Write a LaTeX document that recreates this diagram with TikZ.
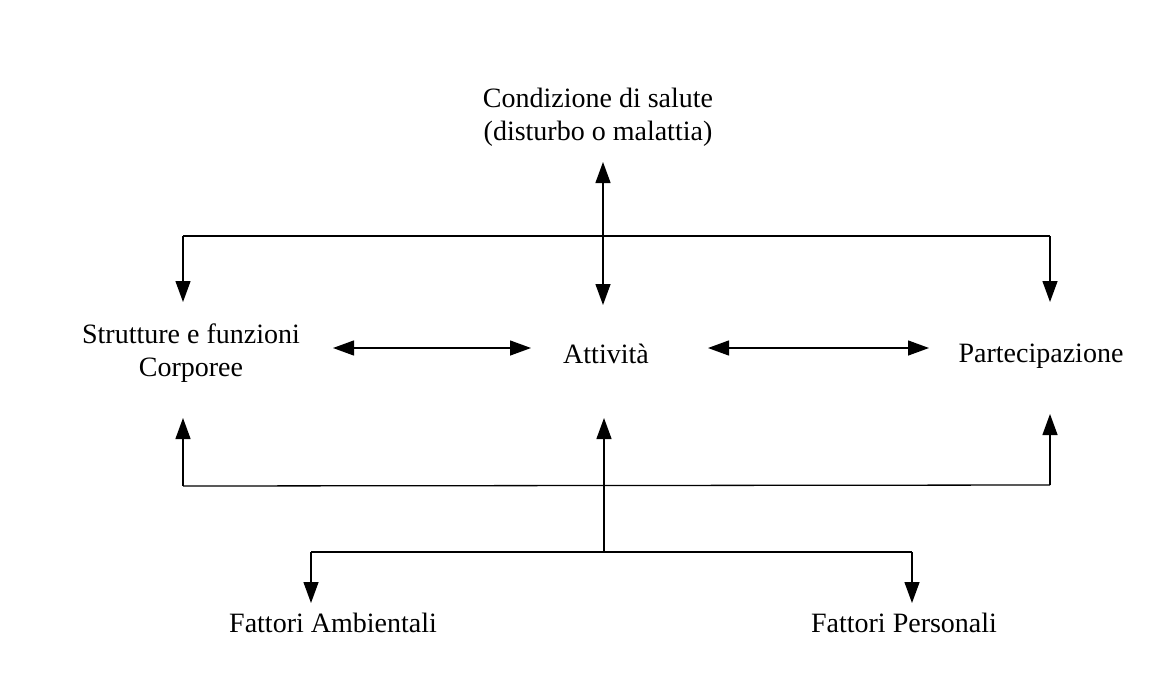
\documentclass[tikz,border=0pt]{standalone}
\usepackage{fontspec}
\setmainfont{Liberation Serif}
\usetikzlibrary{arrows.meta}
\begin{document}
\begin{tikzpicture}[x=1pt,y=-1pt,
  lbl/.style={inner sep=0pt, font=\fontsize{28}{33}\selectfont, align=center, anchor=base},
  conn/.style={line width=1.3pt, black},
  tipend/.style={-{Triangle[length=21pt,width=15pt]}},
  tipboth/.style={{Triangle[length=21pt,width=15pt]}-{Triangle[length=21pt,width=15pt]}}]
\useasboundingbox[fill=white] (0,0) rectangle (1170,686);
% labels
\node[lbl] (cond) at (598,140) {Condizione di salute\\(disturbo o malattia)};
\node[lbl] (strut) at (191,376) {Strutture e funzioni\\Corporee};
\node[lbl] (att) at (606,363) {Attività};
\node[lbl] (part) at (1041,362) {Partecipazione};
\node[lbl] (amb) at (333,632) {Fattori Ambientali};
\node[lbl] (pers) at (904,632) {Fattori Personali};
% coordinates
\coordinate (cu) at (603,162);
\coordinate (cd) at (603,305);
\coordinate (tl) at (183,236);
\coordinate (tr) at (1050,236);
\coordinate (tld) at (183,302);
\coordinate (trd) at (1050,302);
\coordinate (h1a) at (333,348);
\coordinate (h1b) at (531,348);
\coordinate (h2a) at (708,348);
\coordinate (h2b) at (929,348);
\coordinate (bl) at (183,486);
\coordinate (br) at (1050,485);
\coordinate (blu) at (183,418);
\coordinate (bru) at (1050,414);
\coordinate (cm) at (604,552);
\coordinate (cmu) at (604,418);
\coordinate (fl) at (311,552);
\coordinate (fr) at (912,552);
\coordinate (fld) at (311,603);
\coordinate (frd) at (912,603);
% connectors
\draw[conn,tipboth] (cu) -- (cd);
\draw[conn] (tl) -- (tr);
\draw[conn,tipend] (tl) -- (tld);
\draw[conn,tipend] (tr) -- (trd);
\draw[conn,tipboth] (h1a) -- (h1b);
\draw[conn,tipboth] (h2a) -- (h2b);
\draw[conn] (bl) -- (br);
\draw[conn,tipend] (bl) -- (blu);
\draw[conn,tipend] (br) -- (bru);
\draw[conn,tipend] (cm) -- (cmu);
\draw[conn] (fl) -- (fr);
\draw[conn,tipend] (fl) -- (fld);
\draw[conn,tipend] (fr) -- (frd);
\end{tikzpicture}
\end{document}
